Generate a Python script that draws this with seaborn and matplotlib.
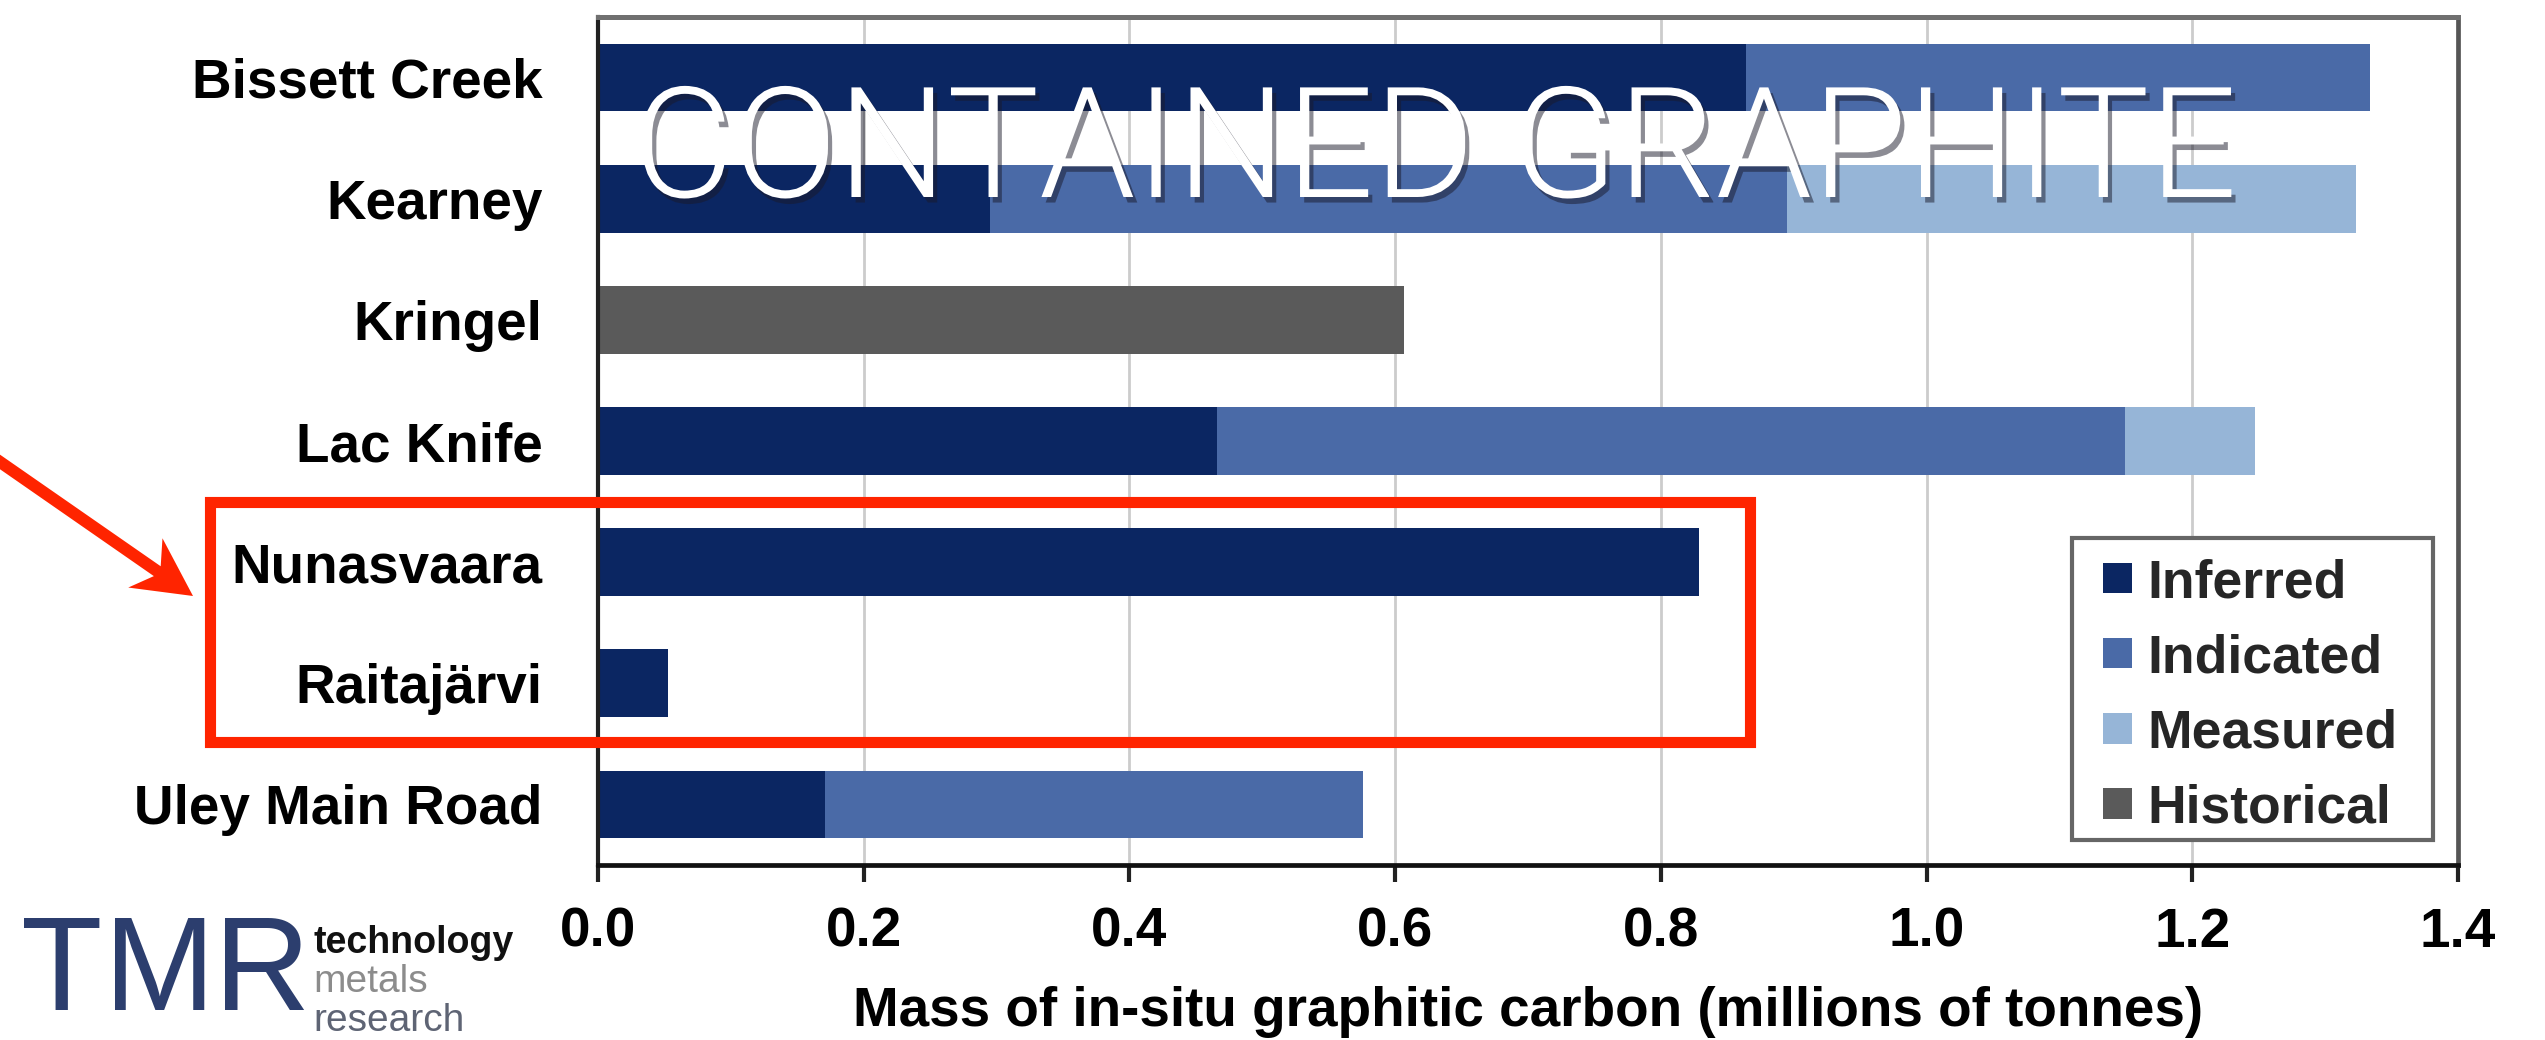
import numpy as np
import pandas as pd
import matplotlib
matplotlib.use("Agg")
import matplotlib.pyplot as plt
import seaborn as sns
from matplotlib.patches import Patch, Rectangle, FancyArrow
from matplotlib import patheffects

# ---- data (millions of tonnes of in-situ graphitic carbon) ----
categories = ["Bissett Creek", "Kearney", "Kringel", "Lac Knife",
              "Nunasvaara", "Raitajärvi", "Uley Main Road"]
inferred = [0.864, 0.295, 0.0, 0.466, 0.829, 0.053, 0.171]
indicated = [0.470, 0.600, 0.0, 0.683, 0.0, 0.0, 0.405]
measured = [0.0, 0.428, 0.0, 0.098, 0.0, 0.0, 0.0]
historical = [0.0, 0.0, 0.607, 0.0, 0.0, 0.0, 0.0]
tick_values = [0.0, 0.2, 0.4, 0.6, 0.8, 1.0, 1.2, 1.4]
classes = ["Inferred", "Indicated", "Measured", "Historical"]
class_colors = ["#0b2662", "#4a6aa7", "#96b5d7", "#5a5a5a"]

sns.set_theme(style="white")
plt.rcParams["font.family"] = ["Liberation Sans", "DejaVu Sans"]

W, H = 2545, 1040
fig = plt.figure(figsize=(W / 100, H / 100), dpi=100)
fig.patch.set_facecolor("white")
ax = fig.add_axes([598 / W, 1 - 865 / H, (2458 - 598) / W, (865 - 17) / H])

df = pd.DataFrame({"site": categories, "Inferred": inferred,
                   "Indicated": indicated, "Measured": measured,
                   "Historical": historical})
df["upto_indicated"] = df["Inferred"] + df["Indicated"]
df["upto_measured"] = df["upto_indicated"] + df["Measured"]

color_of = dict(zip(classes, class_colors))
# stacked bars drawn back to front: cumulative totals, then inner segments
layers = [("upto_measured", "Measured"), ("upto_indicated", "Indicated"),
          ("Inferred", "Inferred"), ("Historical", "Historical")]
for col, name in layers:
    sns.barplot(data=df, x=col, y="site", order=categories, orient="h",
                color=color_of[name], saturation=1, width=0.56,
                errorbar=None, linewidth=0, ax=ax, zorder=2)

ax.set_xlim(0, 1.4)
ax.set_ylim(6.5, -0.5)
ax.set_xticks(tick_values)
ax.set_xticklabels([f"{v:.1f}" for v in tick_values])
ax.tick_params(axis="x", direction="out", length=12, width=3, color="#222222",
               pad=18, labelsize=39.5, bottom=True)
ax.tick_params(axis="y", length=0, pad=40, labelsize=39.5)
for lbl in ax.get_xticklabels() + ax.get_yticklabels():
    lbl.set_fontweight("bold")
    lbl.set_color("black")
ax.set_ylabel("")
ax.set_xlabel("Mass of in-situ graphitic carbon (millions of tonnes)",
              fontsize=39.5, fontweight="bold", color="black", labelpad=20)

ax.xaxis.grid(True, color="#cccccc", linewidth=2)
ax.yaxis.grid(False)
ax.set_axisbelow(True)
for side, col, lw in [("top", "#707070", 3.6), ("right", "#555555", 3.4),
                      ("left", "#222222", 3.0), ("bottom", "#111111", 3.4)]:
    ax.spines[side].set_visible(True)
    ax.spines[side].set_color(col)
    ax.spines[side].set_linewidth(lw)

# legend: white boxed panel with the entries laid out inside it
ax.add_patch(Rectangle((2072 / W, 1 - 840 / H), (2433 - 2072) / W,
                       (840 - 538) / H, transform=fig.transFigure,
                       facecolor="white", edgecolor="#666666", linewidth=3,
                       zorder=4, clip_on=False))
handles = [Patch(facecolor=c, edgecolor="none") for c in class_colors]
leg = ax.legend(handles, classes, loc="upper left",
                bbox_to_anchor=(2103 / W, 1 - 558 / H),
                bbox_transform=fig.transFigure, borderaxespad=0,
                prop={"weight": "bold", "size": 38.5},
                handlelength=0.55, handleheight=0.5, handletextpad=0.28,
                labelspacing=0.47, borderpad=0, frameon=False)
leg.set_zorder(5)

# ---- overlay in pixel units for the highlight box and arrow ----
ov = fig.add_axes([0, 0, 1, 1], zorder=5)
ov.set_xlim(0, W)
ov.set_ylim(H, 0)
ov.axis("off")
ov.patch.set_alpha(0)
ov.add_patch(Rectangle((210, 502), 1750 - 210, 742 - 502, fill=False,
                       edgecolor="#ff2400", linewidth=8))
ov.add_patch(FancyArrow(-10, 455, 203, 141, width=12, head_width=60,
                        head_length=58, length_includes_head=True,
                        overhang=0.25, color="#ff2400", linewidth=0))

# ---- headline ----
fig.text(633 / W, 1 - 197 / H, "CONTAINED GRAPHITE",
         family=["Roboto", "DejaVu Sans"], fontweight=300, fontsize=111,
         color="white", ha="left", va="baseline", zorder=6,
         path_effects=[patheffects.withSimplePatchShadow(
             offset=(3, -4), shadow_rgbFace="#1a1a2a", alpha=0.5)])

# ---- logo ----
for letter, cx in [("T", 62), ("M", 160), ("R", 262)]:
    fig.text(cx / W, 1 - 1010 / H, letter, fontsize=96, color="#2c3e6e",
             ha="center", va="baseline")
fig.text(313 / W, 1 - 953 / H, "technology", fontsize=27, fontweight="bold",
         color="#111111", ha="left", va="baseline")
fig.text(313 / W, 1 - 992 / H, "metals", fontsize=28, color="#8c8c8c",
         ha="left", va="baseline")
fig.text(313 / W, 1 - 1031 / H, "research", fontsize=28, color="#5e6474",
         ha="left", va="baseline")

fig.savefig("out.png", dpi=100, facecolor="white")
